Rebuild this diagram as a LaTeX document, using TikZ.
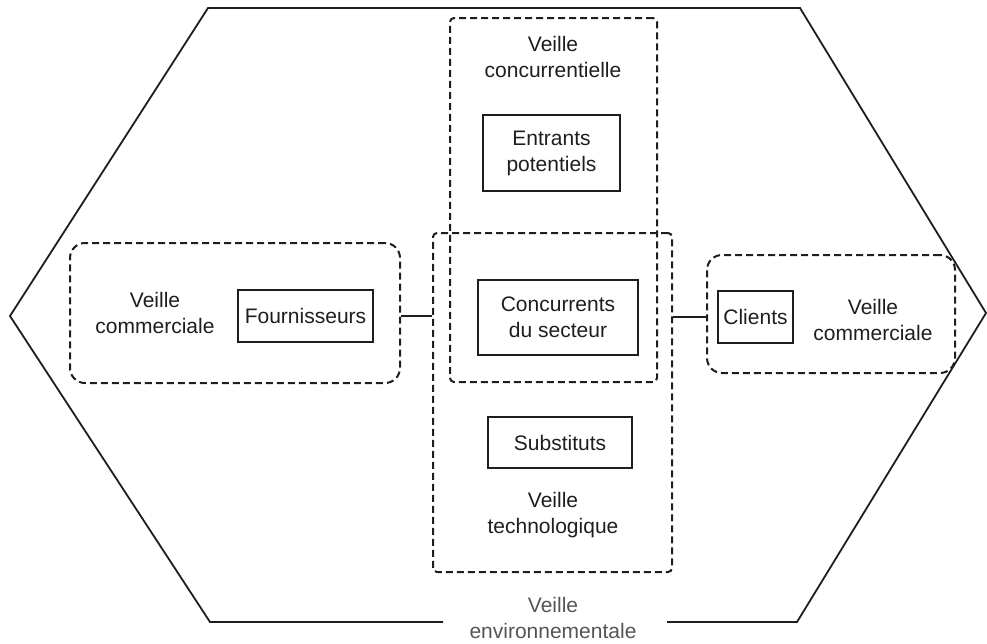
\documentclass[tikz,border=0pt]{standalone}
\usepackage{fontspec}
\setmainfont{Liberation Sans}
\definecolor{ink}{HTML}{1E1E1E}
\definecolor{soft}{HTML}{555555}
\begin{document}
\begin{tikzpicture}[x=1pt,y=-1pt,
  lbl/.style={align=center,font=\fontsize{21}{26}\selectfont,text=ink,inner sep=0pt},
  solidbox/.style={draw=ink,line width=1.5pt,inner sep=0pt,align=center,font=\fontsize{21}{26}\selectfont,text=ink},
  dashbox/.style={draw=ink,line width=2pt,dash pattern=on 7pt off 4pt,inner sep=0pt},
  link/.style={draw=ink,line width=1.5pt}]
\useasboundingbox (0,0) rectangle (987,643);
% hexagon
\draw[ink,line width=1.8pt] (443,622) -- (210,622) -- (10,316) -- (208,8) -- (800,8) -- (986,313) -- (797,622) -- (667,622);
\node[lbl,text=soft] (venv) at (553,618) {Veille\\environnementale};
% dashed regions
\node[dashbox,rounded corners=15pt,minimum width=330pt,minimum height=140pt] (leftdash) at (235,313) {};
\node[dashbox,rounded corners=15pt,minimum width=248pt,minimum height=118pt] (rightdash) at (831,314) {};
\node[dashbox,rounded corners=4pt,minimum width=207pt,minimum height=364pt] (concdash) at (553.5,200) {};
\node[dashbox,rounded corners=4pt,minimum width=239pt,minimum height=339pt] (techdash) at (552.5,402.5) {};
% boxes
\node[solidbox,minimum width=135pt,minimum height=52pt] (fourn) at (305.5,316) {Fournisseurs};
\node[solidbox,minimum width=137pt,minimum height=76pt] (entr) at (551.5,153) {Entrants\\potentiels};
\node[solidbox,minimum width=160pt,minimum height=75pt] (conc) at (558,317.5) {Concurrents\\du secteur};
\node[solidbox,minimum width=144pt,minimum height=51pt] (subst) at (560,442.5) {Substituts};
\node[solidbox,minimum width=75pt,minimum height=52pt] (cli) at (755.5,317) {Clients};
% labels
\node[lbl] (vcl) at (155,313) {Veille\\commerciale};
\node[lbl] (vcr) at (873,320) {Veille\\commerciale};
\node[lbl] (vconc) at (553,57) {Veille\\concurrentielle};
\node[lbl] (vtech) at (553,515) {Veille\\technologique};
% connectors
\draw[link] (fourn.east -| leftdash.east) -- (fourn.east -| techdash.west);
\draw[link] (cli.west -| techdash.east) -- (cli.west -| rightdash.west);
\end{tikzpicture}
\end{document}
